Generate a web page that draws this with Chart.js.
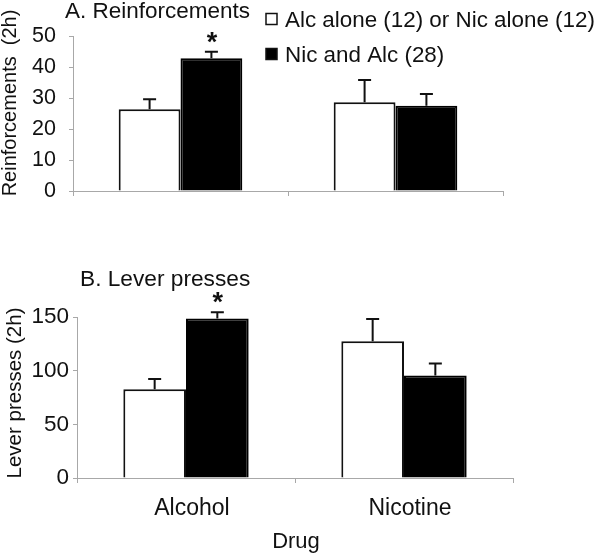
<!DOCTYPE html>
<html>
<head>
<meta charset="utf-8">
<script src="https://cdn.jsdelivr.net/npm/chart.js@4/dist/chart.umd.min.js"></script>
<style>
  html, body { margin: 0; padding: 0; background: #fff; }
  #wrap { position: relative; width: 600px; height: 556px; overflow: hidden; }
  #c1 { position: absolute; left: 0; top: 0; }
  #c2 { position: absolute; left: 0; top: 240px; }
</style>
</head>
<body>
<div id="wrap">
  <canvas id="c1" width="600" height="240"></canvas>
  <canvas id="c2" width="600" height="316"></canvas>
</div>
<script>
// ---- data ----
const categories = ['Alcohol', 'Nicotine'];
const seriesLabels = ['Alc alone (12) or Nic alone (12)', 'Nic and Alc (28)'];

const reinfAlone = [26.4, 28.6];
const reinfAloneErr = [3.2, 7.2];
const reinfBoth = [42.8, 27.5];
const reinfBothErr = [2.1, 3.8];

const pressAlone = [82.8, 127.4];
const pressAloneErr = [9.5, 20.7];
const pressBoth = [148.5, 95.5];
const pressBothErr = [5.9, 11.2];

const reinfSig = [['', ''], ['*', '']];
const pressSig = [['', ''], ['*', '']];

const reinfTicks = [0, 10, 20, 30, 40, 50];
const pressTicks = [0, 50, 100, 150];

const panelTitles = ['A. Reinforcements', 'B. Lever presses'];
const yTitles = ['Reinforcements  (2h)', 'Lever presses (2h)'];
const xTitle = 'Drug';

// ---- styles ----
const FONT = '"Liberation Sans", Arial, Helvetica, sans-serif';
const TXT = '#111';
const AXIS = '#a8a8a8';

const errorBarPlugin = {
  id: 'errorBars',
  afterDatasetsDraw(chart, args, opts) {
    const ctx = chart.ctx;
    const ys = chart.scales.y;
    ctx.save();
    ctx.strokeStyle = '#111';
    ctx.lineWidth = 2;
    chart.data.datasets.forEach((ds, i) => {
      const meta = chart.getDatasetMeta(i);
      meta.data.forEach((el, j) => {
        const v = ds.data[j], e = ds.errors[j];
        const yTop = ys.getPixelForValue(v + e);
        const yBar = ys.getPixelForValue(v);
        ctx.beginPath();
        ctx.moveTo(el.x, yBar);
        ctx.lineTo(el.x, yTop);
        ctx.moveTo(el.x - 6.5, yTop);
        ctx.lineTo(el.x + 6.5, yTop);
        ctx.stroke();
        const s = ds.sig ? ds.sig[j] : '';
        if (s) {
          ctx.fillStyle = '#111';
          ctx.font = 'bold 27px ' + FONT;
          ctx.textAlign = 'center';
          ctx.textBaseline = 'alphabetic';
          ctx.fillText(s, el.x + 0.5, yTop - 1);
        }
      });
    });
    ctx.restore();
  }
};

const textPlugin = {
  id: 'panelText',
  afterDraw(chart, args, opts) {
    const ctx = chart.ctx;
    ctx.save();
    ctx.fillStyle = TXT;
    (opts.items || []).forEach(it => {
      ctx.save();
      ctx.font = it.size + 'px ' + FONT;
      ctx.textAlign = it.align || 'left';
      ctx.textBaseline = it.baseline || 'alphabetic';
      ctx.translate(it.x, it.y);
      if (it.rot) ctx.rotate(it.rot);
      ctx.fillText(it.text, 0, 0);
      ctx.restore();
    });
    (opts.boxes || []).forEach(b => {
      ctx.save();
      ctx.lineWidth = 1.5;
      ctx.strokeStyle = '#111';
      ctx.fillStyle = b.fill;
      ctx.fillRect(b.x, b.y, b.w, b.h);
      ctx.strokeRect(b.x, b.y, b.w, b.h);
      ctx.restore();
    });
    ctx.restore();
  }
};

function makeChart(canvasId, cfg) {
  return new Chart(document.getElementById(canvasId), {
    type: 'bar',
    data: {
      labels: categories,
      datasets: [
        { label: seriesLabels[0], data: cfg.a, errors: cfg.aErr, sig: cfg.sig[0],
          backgroundColor: '#ffffff', borderColor: '#111', borderWidth: 2,
          categoryPercentage: 0.575, barPercentage: 1.0 },
        { label: seriesLabels[1], data: cfg.b, errors: cfg.bErr, sig: cfg.sig[1],
          backgroundColor: '#000000', borderColor: '#000', borderWidth: 2,
          categoryPercentage: 0.575, barPercentage: 1.0 }
      ]
    },
    options: {
      responsive: false,
      animation: false,
      events: [],
      layout: { padding: { top: cfg.padTop, right: cfg.padRight, left: 0, bottom: 0 } },
      plugins: {
        legend: { display: false },
        tooltip: { enabled: false },
        title: { display: false },
        panelText: { items: cfg.items, boxes: cfg.boxes || [] }
      },
      scales: {
        x: {
          offset: true,
          grid: { offset: true, drawOnChartArea: false, drawTicks: true, tickLength: 5, color: AXIS, lineWidth: 1 },
          border: { display: true, color: AXIS, width: 1 },
          ticks: {
            display: cfg.showX, color: TXT, padding: 12, labelOffset: 6,
            font: { family: FONT, size: 23 }
          },
          afterFit(s) { s.height = cfg.xHeight; }
        },
        y: {
          min: 0, max: cfg.max,
          afterBuildTicks(s) { s.ticks = cfg.ticks.map(v => ({ value: v })); },
          grid: { drawOnChartArea: false, drawTicks: true, tickLength: 4, color: AXIS, lineWidth: 1 },
          border: { display: true, color: AXIS, width: 1 },
          ticks: { color: TXT, padding: cfg.yPad, font: { family: FONT, size: cfg.yFont } },
          afterFit(s) { s.width = cfg.yWidth; }
        }
      }
    },
    plugins: [errorBarPlugin, textPlugin]
  });
}

makeChart('c1', {
  a: reinfAlone, aErr: reinfAloneErr, b: reinfBoth, bErr: reinfBothErr, sig: reinfSig,
  max: 50, ticks: reinfTicks, padTop: 36, padRight: 97, yWidth: 73, xHeight: 49,
  showX: false, yPad: 13, yFont: 21.5,
  items: [
    { text: panelTitles[0], x: 65, y: 18, size: 22.5 },
    { text: yTitles[0], x: 16, y: 103, size: 20, align: 'center', rot: -Math.PI / 2 },
    { text: seriesLabels[0], x: 285, y: 27, size: 22.4 },
    { text: seriesLabels[1], x: 285, y: 62, size: 22.4 }
  ],
  boxes: [
    { x: 266, y: 13.5, w: 11, h: 11, fill: '#ffffff' },
    { x: 266, y: 48.5, w: 11, h: 11, fill: '#000000' }
  ]
});

makeChart('c2', {
  a: pressAlone, aErr: pressAloneErr, b: pressBoth, bErr: pressBothErr, sig: pressSig,
  max: 150, ticks: pressTicks, padTop: 77, padRight: 87, yWidth: 77, xHeight: 78,
  showX: true, yPad: 4, yFont: 22.5,
  items: [
    { text: panelTitles[1], x: 80, y: 46, size: 22.7 },
    { text: yTitles[1], x: 21, y: 153, size: 20.5, align: 'center', rot: -Math.PI / 2 },
    { text: xTitle, x: 296, y: 308, size: 22, align: 'center' }
  ]
});
</script>
</body>
</html>
